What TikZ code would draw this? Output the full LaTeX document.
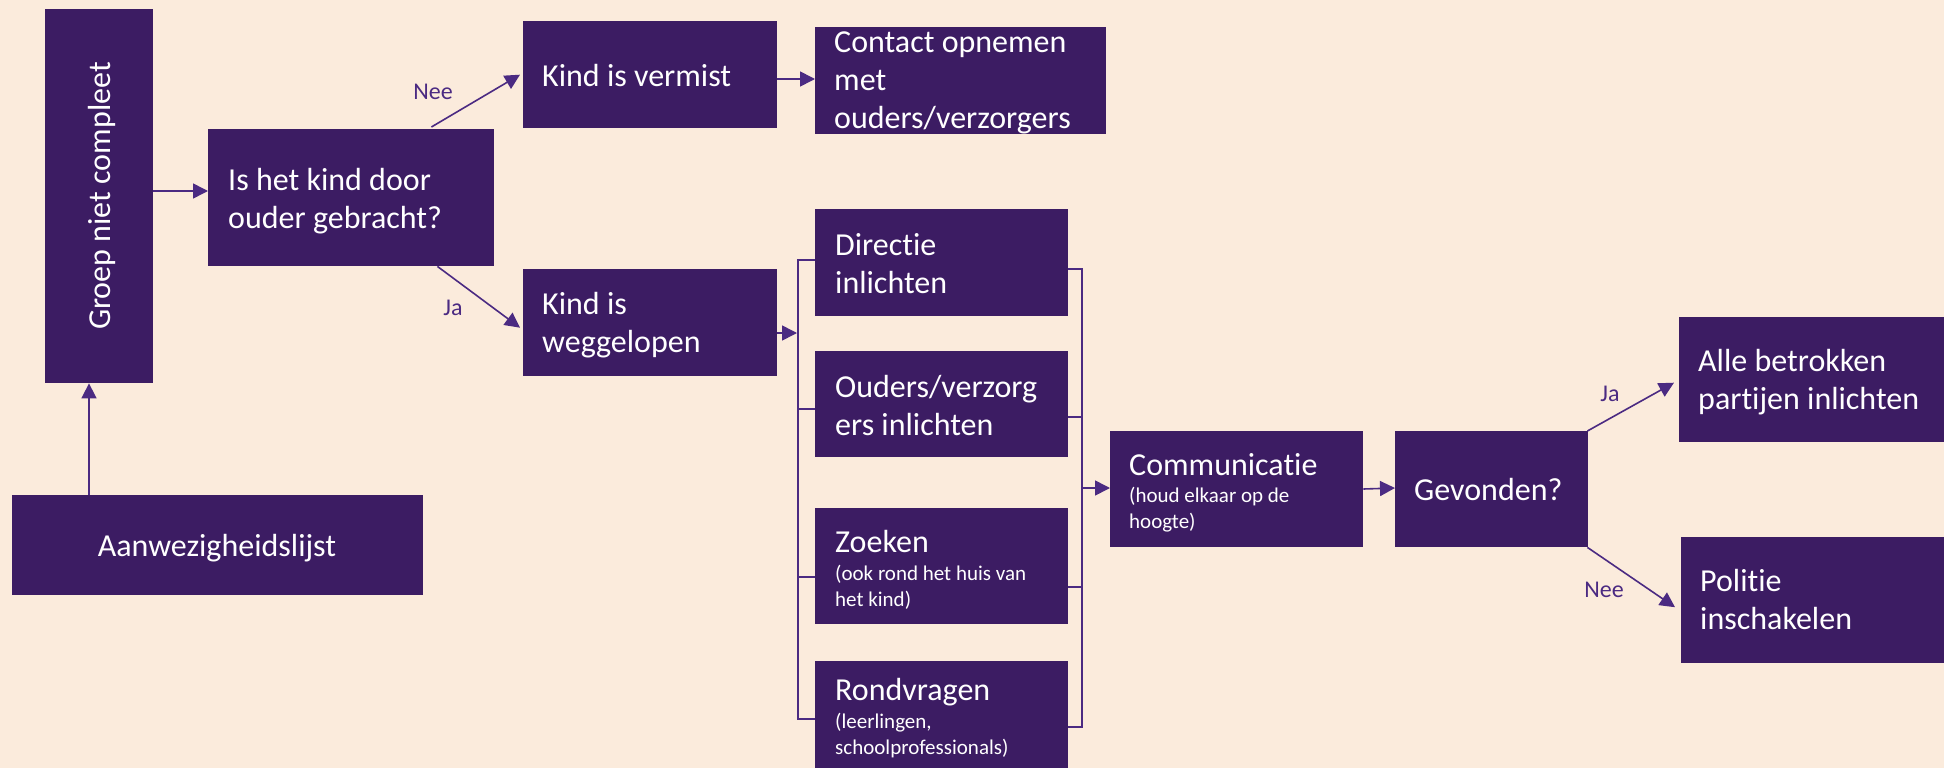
\documentclass[tikz,border=0pt]{standalone}
\usepackage{fontspec}
\setmainfont{Carlito}[Ligatures=NoCommon]
\usetikzlibrary{arrows.meta}
\definecolor{bg}{HTML}{FBEBDC}
\definecolor{boxc}{HTML}{3C1C63}
\definecolor{linec}{HTML}{4B2A82}
\newcommand\mainf{\fontsize{32}{38}\selectfont}
\newcommand\smallf{\fontsize{21}{26}\selectfont}
\begin{document}
\begin{tikzpicture}[x=1pt,y=-1pt,
  box/.style={fill=boxc, draw=none, inner sep=0, anchor=north west},
  txt/.style={text=white, inner sep=0, align=left, font=\mainf, anchor=base west},
  sub/.style={text=white, inner sep=0, align=left, font=\smallf, anchor=base west},
  lab/.style={text=linec, inner sep=0, font=\fontsize{24}{29}\selectfont},
  ln/.style={draw=linec, line width=1.6pt},
  arr/.style={ln, -{Triangle[length=15pt,width=15pt]}}]
\useasboundingbox[fill=bg] (0,0) rectangle (1944,768);
% boxes
\node[box, minimum width=108pt, minimum height=374pt] (groep) at (45,9) {};
\node[box, minimum width=286pt, minimum height=137pt] (is) at (208,129) {};
\node[box, minimum width=254pt, minimum height=107pt] (verm) at (523,21) {};
\node[box, minimum width=291pt, minimum height=107pt] (cont) at (815,27) {};
\node[box, minimum width=254pt, minimum height=107pt] (weg) at (523,269) {};
\node[box, minimum width=253pt, minimum height=107pt] (dir) at (815,209) {};
\node[box, minimum width=253pt, minimum height=106pt] (oud) at (815,351) {};
\node[box, minimum width=253pt, minimum height=116pt] (zoe) at (815,508) {};
\node[box, minimum width=253pt, minimum height=107pt] (ron) at (815,661) {};
\node[box, minimum width=253pt, minimum height=116pt] (com) at (1110,431) {};
\node[box, minimum width=193pt, minimum height=116pt] (gev) at (1395,431) {};
\node[box, minimum width=265pt, minimum height=125pt] (alle) at (1679,317) {};
\node[box, minimum width=263pt, minimum height=126pt] (pol) at (1681,537) {};
\node[box, minimum width=411pt, minimum height=100pt] (aan) at (12,495) {};
% texts (base = baseline of the last line)
\node[txt, anchor=base, rotate=90] (tgroep) at (110,196) {Groep niet compleet};
\node[txt] (tis) at (228,228) {Is het kind door\\ouder gebracht?};
\node[txt] (tverm) at (542,86) {Kind is vermist};
\node[txt] (tcont) at (834,128) {Contact opnemen\\met\\ouders/verzorgers};
\node[txt] (tweg) at (542,352) {Kind is\\weggelopen};
\node[txt] (tdir) at (835,293) {Directie\\inlichten};
\node[txt] (toud) at (835,435) {Ouders/verzorg\\ers inlichten};
\node[txt] (tzoe) at (835,552) {Zoeken};
\node[sub] (tzoe2) at (835,606) {(ook rond het huis van\\het kind)};
\node[txt] (tron) at (835,700) {Rondvragen};
\node[sub] (tron2) at (835,754) {(leerlingen,\\schoolprofessionals)};
\node[txt] (tcom) at (1129,475) {Communicatie};
\node[sub] (tcom2) at (1129,528) {(houd elkaar op de\\hoogte)};
\node[txt] (tgev) at (1414,500) {Gevonden?};
\node[txt] (talle) at (1698,409) {Alle betrokken\\partijen inlichten};
\node[txt] (tpol) at (1700,629) {Politie\\inschakelen};
\node[txt, anchor=base] (taan) at (217,556) {Aanwezigheidslijst};
% labels
\node[lab] (lnee1) at (433,92) {Nee};
\node[lab] (lja1) at (453,308) {Ja};
\node[lab] (lja2) at (1610,394) {Ja};
\node[lab] (lnee2) at (1604,590) {Nee};
% connectors
\draw[arr] (aan.north -| 89,0) -- (groep.south -| 89,0);
\draw[arr] (groep.east |- 0,191) -- (is.west |- 0,191);
\draw[arr] ([xshift=-63pt,yshift=2pt]is.north east) -- ([xshift=-3pt]verm.west);
\draw[arr] ([xshift=-57pt]is.south east) -- ([xshift=-3pt,yshift=-5pt]weg.west);
\draw[arr] (verm.east |- 0,79) -- (cont.west |- 0,79);
\coordinate (lin) at (797,333);
\draw[arr] (weg.east |- lin) -- (lin);
\draw[ln] (dir.west |- 0,260) -| (798,719) -- (ron.west |- 0,719);
\draw[ln] (798,409) -- (oud.west |- 0,409);
\draw[ln] (798,577) -- (zoe.west |- 0,577);
\draw[ln] (dir.east |- 0,269) -| (1082,727) -- (ron.east |- 0,727);
\draw[ln] (1082,417) -- (oud.east |- 0,417);
\draw[ln] (1082,587) -- (zoe.east |- 0,587);
\coordinate (rout) at (1082,488);
\draw[arr] (rout) -- (com.west |- rout);
\draw[arr] (com.east |- 0,489) -- (gev.west |- 0,488);
\draw[arr] ([xshift=-1pt]gev.north east) -- ([xshift=-5pt,yshift=-3pt]alle.west);
\draw[arr] ([xshift=-1pt]gev.south east) -- ([xshift=-6pt,yshift=-7pt]pol.west);
\end{tikzpicture}
\end{document}
